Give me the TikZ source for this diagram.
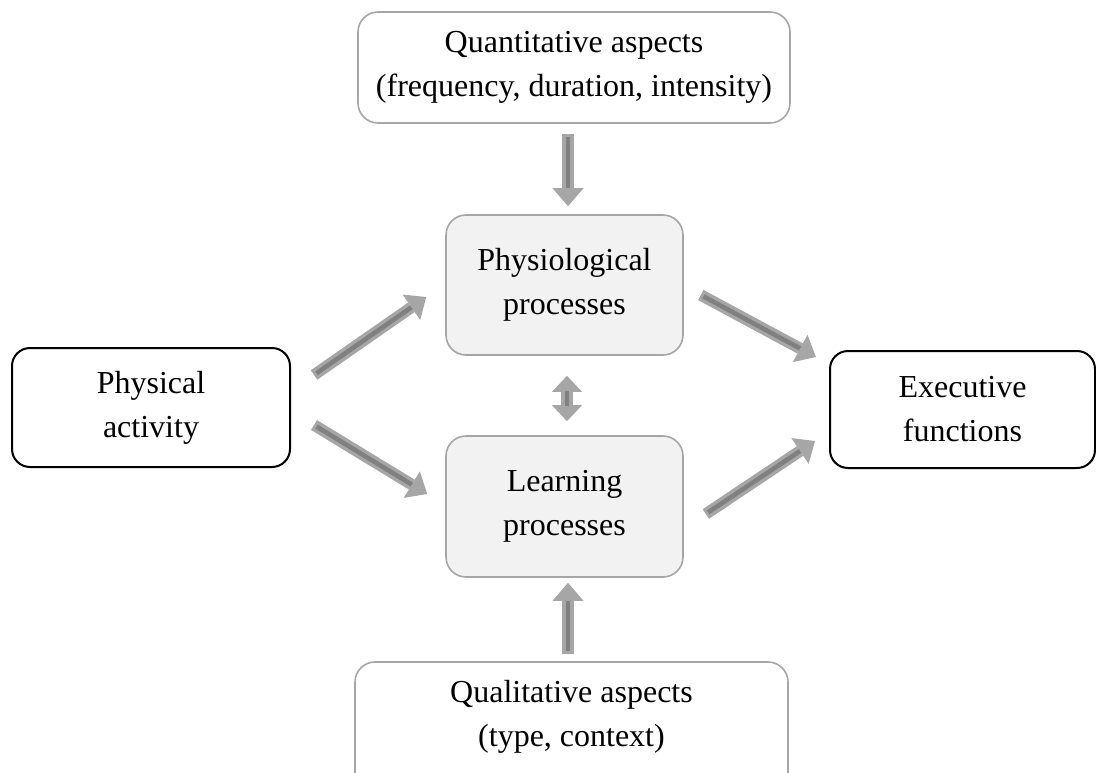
\documentclass[tikz,border=0pt]{standalone}
\usepackage{fontspec}
\setmainfont{Liberation Serif}
\usetikzlibrary{arrows.meta,calc}
\definecolor{boxgray}{HTML}{A6A6A6}
\definecolor{boxfill}{HTML}{F2F2F2}
\definecolor{arrlight}{HTML}{A6A6A6}
\definecolor{arrdark}{HTML}{808080}
\tikzset{
  txt/.style={align=center, font=\fontsize{32}{44}\selectfont, inner sep=0pt},
  lightbox/.style={txt, draw=boxgray, line width=1.6pt, rounded corners=20pt},
  graybox/.style={lightbox, fill=boxfill},
  darkbox/.style={txt, draw=black, line width=2pt, rounded corners=18pt},
  fatouter/.style={draw=arrlight, line width=11.5pt},
  fatinner/.style={draw=arrdark, line width=4.5pt},
  headend/.style={-{Triangle[width=31pt,length=18pt,line width=0pt]}},
  headboth/.style={{Triangle[width=30pt,length=16pt,line width=0pt]}-{Triangle[width=30pt,length=16pt,line width=0pt]}},
}
\newcommand{\fatarr}[2]{%
  \draw[fatouter,headend] #1 -- #2;
  \draw[fatinner,shorten >=18pt,shorten <=3pt] #1 -- #2;}
\begin{document}
\begin{tikzpicture}[x=1pt,y=-1pt]
\clip (0,0) rectangle (1096,772);
\node[lightbox, minimum width=432pt, minimum height=111pt] (top) at (574,67.5) {Quantitative aspects\\(frequency, duration, intensity)};
\node[graybox, minimum width=237pt, minimum height=140pt] (phys) at (564.5,285) {Physiological\\processes};
\node[graybox, minimum width=237pt, minimum height=141pt] (learn) at (564.5,506.5) {Learning\\processes};
\node[darkbox, minimum width=278pt, minimum height=119pt] (pa) at (151,407.5) {Physical\\activity};
\node[darkbox, minimum width=265pt, minimum height=117pt] (ef) at (962.5,409.5) {Executive\\functions};
\node[lightbox, minimum width=433pt, minimum height=140pt] (qual) at (571.5,732) {};
\node[txt] (qualtxt) at (571.5,717) {Qualitative aspects\\(type, context)};

% vertical arrows
\coordinate (t1) at ($(top.south)+(-6,10)$);
\coordinate (t2) at ($(phys.north)+(3.5,-8)$);
\fatarr{(t1)}{(t2)}
\coordinate (q1) at ($(qual.north)+(-3.5,-7)$);
\coordinate (q2) at ($(learn.south)+(3.5,5)$);
\fatarr{(q1)}{(q2)}
% double arrow
\coordinate (d1) at ($(phys.south)+(2.5,20)$);
\coordinate (d2) at ($(learn.north)+(2.5,-14)$);
\draw[fatouter,headboth] (d1) -- (d2);
\draw[fatinner,shorten >=15pt,shorten <=15pt] (d1) -- (d2);
% diagonal arrows
\coordinate (a1) at ($(pa.east)+(23,-32.5)$);
\coordinate (a2) at ($(phys.west)+(-19,12)$);
\fatarr{(a1)}{(a2)}
\coordinate (b1) at ($(pa.east)+(23,17.5)$);
\coordinate (b2) at ($(learn.west)+(-18,-12.5)$);
\fatarr{(b1)}{(b2)}
\coordinate (c1) at ($(phys.east)+(17,10)$);
\coordinate (c2) at ($(ef.west)+(-13,-52.5)$);
\fatarr{(c1)}{(c2)}
\coordinate (e1) at ($(learn.east)+(22,7.5)$);
\coordinate (e2) at ($(ef.west)+(-14,31.5)$);
\fatarr{(e1)}{(e2)}
\end{tikzpicture}
\end{document}
